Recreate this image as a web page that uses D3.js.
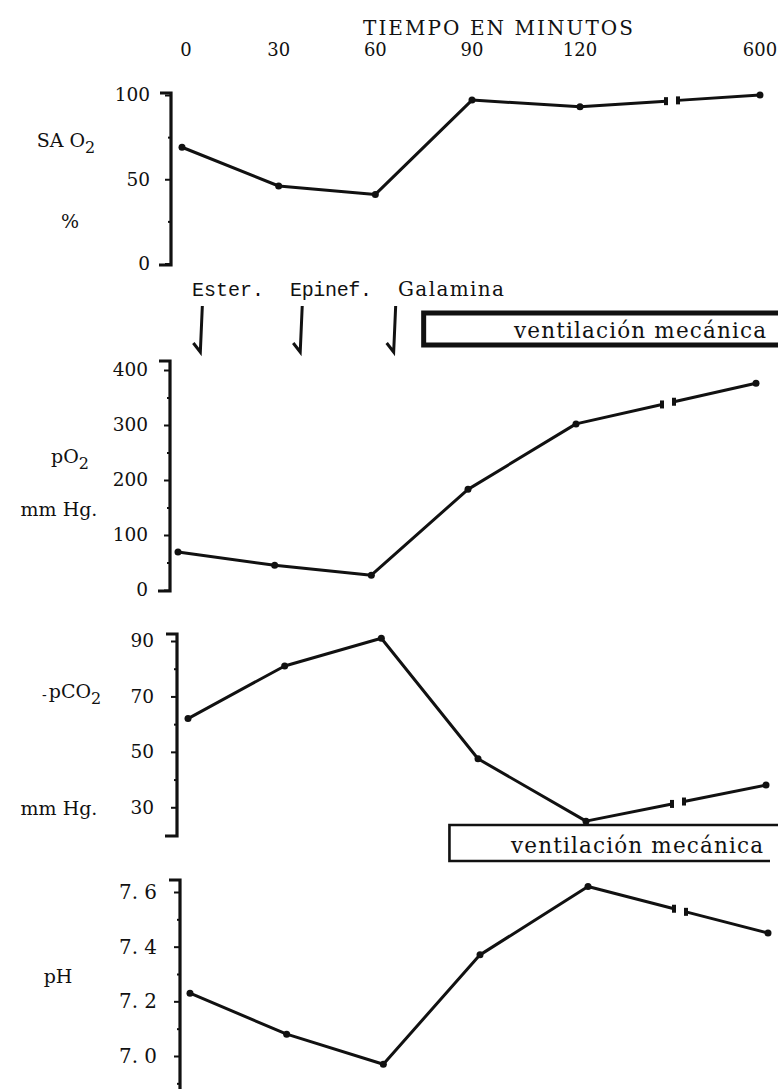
<!DOCTYPE html>
<html>
<head>
<meta charset="utf-8">
<script src="https://cdn.jsdelivr.net/npm/d3@7"></script>
<style>
  body { margin: 0; background: #fff; }
  svg { display: block; }
  text { font-family: "DejaVu Serif", "Liberation Serif", serif; fill: #111; }
  .mono { font-family: "Liberation Mono", "DejaVu Sans Mono", monospace; }
</style>
</head>
<body>
<div id="chart"></div>
<script>
// tiempo en minutos (eje con corte entre 120 y 600)
var minutos = [0, 30, 60, 90, 120, 600];
var etiquetasTiempo = ["0", "30", "60", "90", "120", "600"];

// series
var saO2 = [69, 46, 41, 97, 93, 100];
var pO2 = [69, 45, 27, 183, 302, 376];
var pCO2 = [62, 81, 91, 47.5, 25, 38];
var pH = [7.23, 7.08, 6.97, 7.37, 7.62, 7.45];

// ticks
var ticksSa = [0, 50, 100];
var ticksPO2 = [0, 100, 200, 300, 400];
var ticksPCO2 = [30, 50, 70, 90];
var ticksPH = [7.0, 7.2, 7.4, 7.6];

// eventos
var eventos = ["Ester.", "Epinef.", "Galamina"];
var eventosMin = [6, 37, 66];
var ventilacionMin = [75, 83];

var W = 778, H = 1089;
var svg = d3.select("#chart").append("svg")
  .attr("width", W)
  .attr("height", H);

var x = d3.scaleLinear()
  .domain([0, 90, 120, 600])
  .range([182, 472, 580, 760]);

// titulo
svg.append("text")
  .attr("x", 363).attr("y", 35)
  .attr("font-size", 20)
  .attr("textLength", 270)
  .text("TIEMPO EN MINUTOS");

svg.selectAll(".xlab")
  .data(etiquetasTiempo)
  .enter().append("text")
  .attr("class", "xlab")
  .attr("x", function(d, i) { return x(minutos[i]) + (i == 0 ? 4 : 0); })
  .attr("y", 56)
  .attr("font-size", 18)
  .attr("text-anchor", "middle")
  .text(function(d) { return d; });

var panels = [
  { vals: saO2, dom: [0, 100], rng: [263.5, 95], ticks: ticksSa, minor: [25, 75],
    top: 93, bottom: 265, ax: 171, dx: 0, lab: 150, fmt: d3.format("d"), mono: false },
  { vals: pO2, dom: [0, 400], rng: [590, 370], ticks: ticksPO2, minor: [50, 150, 250, 350],
    top: 361, bottom: 591, ax: 170, dx: -4, lab: 148, fmt: d3.format("d"), mono: false },
  { vals: pCO2, dom: [20, 90], rng: [835, 641], ticks: ticksPCO2, minor: [40, 60, 80],
    top: 634, bottom: 836, ax: 177, dx: 6, lab: 154, fmt: d3.format("d"), mono: false },
  { vals: pH, dom: [7.0, 7.6], rng: [1056, 892], ticks: ticksPH, minor: [6.9, 7.1, 7.3, 7.5],
    top: 880, bottom: null, ax: 180, dx: 8, lab: 157,
    fmt: function(d) { return d3.format(".1f")(d).replace(".", ". "); }, mono: true }
];

var line = d3.line();

panels.forEach(function(p) {
  var y = d3.scaleLinear().domain(p.dom).range(p.rng);
  var g = svg.append("g");

  // eje: corchete
  var bot = p.bottom == null ? H + 5 : p.bottom;
  var br = "M" + (p.ax - 11) + "," + p.top + "H" + p.ax + "V" + bot;
  if (p.bottom != null) br += "H" + (p.ax - 12);
  g.append("path")
    .attr("d", br)
    .attr("fill", "none")
    .attr("stroke", "#111")
    .attr("stroke-width", 3.2);

  var axis = d3.axisLeft(y)
    .tickValues(p.ticks)
    .tickSize(6)
    .tickPadding(p.ax - p.lab - 6)
    .tickFormat(p.fmt);
  var ag = g.append("g")
    .attr("transform", "translate(" + p.ax + ",0)")
    .call(axis);
  ag.select(".domain").remove();
  ag.selectAll("line").attr("stroke", "#111").attr("stroke-width", 2);
  ag.selectAll("text")
    .attr("font-size", p.mono ? 20 : 18.5)
    .attr("font-family", p.mono ? "Liberation Mono, monospace" : "DejaVu Serif, serif")
    .attr("fill", "#111");
  if (p.mono) {
    ag.selectAll("text")
      .attr("textLength", 38)
      .attr("lengthAdjust", "spacingAndGlyphs");
  }

  var mg = g.append("g")
    .attr("transform", "translate(" + p.ax + ",0)")
    .call(d3.axisLeft(y).tickValues(p.minor).tickSize(3).tickFormat(""));
  mg.select(".domain").remove();
  mg.selectAll("line").attr("stroke", "#111").attr("stroke-width", 2);

  // puntos
  var pts = p.vals.map(function(v, i) { return [x(minutos[i]) + p.dx, y(v)]; });

  // corte del eje entre 120 y 600
  var a = pts[4], b = pts[5];
  var gx0 = 666 + p.dx, gx1 = 678 + p.dx;
  var t0 = (gx0 - a[0]) / (b[0] - a[0]), t1 = (gx1 - a[0]) / (b[0] - a[0]);
  var c0 = [gx0, a[1] + (b[1] - a[1]) * t0];
  var c1 = [gx1, a[1] + (b[1] - a[1]) * t1];

  g.append("path")
    .attr("d", line(pts.slice(0, 5).concat([c0])))
    .attr("fill", "none")
    .attr("stroke", "#111")
    .attr("stroke-width", 3)
    .attr("stroke-linejoin", "round");
  g.append("path")
    .attr("d", line([c1, b]))
    .attr("fill", "none")
    .attr("stroke", "#111")
    .attr("stroke-width", 3);

  g.selectAll(".brk")
    .data([c0, c1])
    .enter().append("line")
    .attr("x1", function(d) { return d[0]; })
    .attr("x2", function(d) { return d[0]; })
    .attr("y1", function(d) { return d[1] - 4; })
    .attr("y2", function(d) { return d[1] + 4; })
    .attr("stroke", "#111")
    .attr("stroke-width", 4);

  g.selectAll(".dot")
    .data(pts)
    .enter().append("circle")
    .attr("cx", function(d) { return d[0]; })
    .attr("cy", function(d) { return d[1]; })
    .attr("r", 3.5)
    .attr("fill", "#111");
});

// etiquetas de las variables
function etiqueta(txt, sub, cx, yb) {
  var t = svg.append("text")
    .attr("x", cx).attr("y", yb)
    .attr("font-size", 19)
    .attr("text-anchor", "middle");
  t.append("tspan").text(txt);
  if (sub) t.append("tspan").attr("dy", 6).attr("font-size", 16).text(sub);
}
etiqueta("SA O", "2", 66, 147);
etiqueta("%", null, 70, 228);
etiqueta("pO", "2", 70, 463);
etiqueta("mm Hg.", null, 59, 516);
etiqueta("pCO", "2", 75, 698);
svg.append("text").attr("x", 42).attr("y", 700).attr("font-size", 14).text("-");
etiqueta("mm Hg.", null, 59, 815);
etiqueta("pH", null, 58, 983);

// eventos
svg.selectAll(".ev")
  .data(eventos)
  .enter().append("text")
  .attr("class", function(d, i) { return i < 2 ? "mono" : ""; })
  .attr("x", function(d, i) { return [192, 290, 398][i]; })
  .attr("y", 296)
  .attr("font-size", 20)
  .attr("textLength", function(d, i) { return [72, 82, 106][i]; })
  .text(function(d) { return d; });

svg.selectAll(".flecha")
  .data(eventosMin)
  .enter().append("path")
  .attr("d", function(d) {
    var xx = x(d);
    return "M" + (xx + 1) + ",306L" + (xx - 1) + ",352L" + (xx - 8) + ",343";
  })
  .attr("fill", "none")
  .attr("stroke", "#111")
  .attr("stroke-width", 3);

// ventilacion mecanica (dos recuadros)
var vent = [
  { x0: x(ventilacionMin[0]), y0: 313, y1: 345, sw: 5, tx: 766, ty: 338 },
  { x0: x(ventilacionMin[1]), y0: 825, y1: 861, sw: 2.6, tx: 763, ty: 853 }
];
vent.forEach(function(v, i) {
  svg.append("path")
    .attr("d", "M" + (W + 10) + "," + v.y0 + "H" + v.x0 + "V" + v.y1 + "H" + (i == 0 ? W + 10 : 770))
    .attr("fill", "none")
    .attr("stroke", "#111")
    .attr("stroke-width", v.sw);
  svg.append("text")
    .attr("x", v.tx).attr("y", v.ty)
    .attr("font-size", 21.5)
    .attr("text-anchor", "end")
    .attr("textLength", 252)
    .text("ventilación mecánica");
});
</script>
</body>
</html>
